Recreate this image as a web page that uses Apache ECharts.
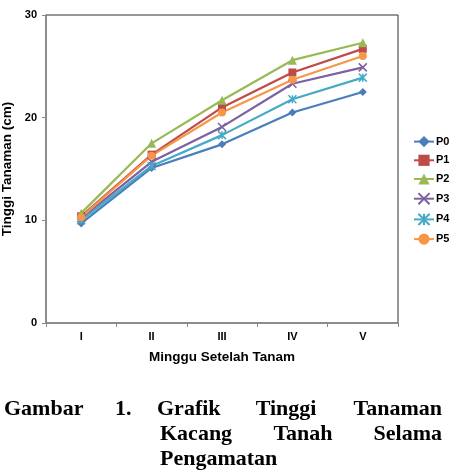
<!DOCTYPE html>
<html>
<head>
<meta charset="utf-8">
<script src="https://cdn.jsdelivr.net/npm/echarts@6/dist/echarts.min.js"></script>
<style>
  html, body { margin: 0; padding: 0; background: #fff; }
  #chart { width: 453px; height: 473px; }
</style>
</head>
<body>
<div id="chart"></div>
<script>
const weeks = ['I', 'II', 'III', 'IV', 'V'];
const yTicks = [0, 10, 20, 30];

const p0 = [9.7, 15.1, 17.4, 20.5, 22.5];
const p1 = [10.4, 16.4, 21.0, 24.4, 26.7];
const p2 = [10.7, 17.5, 21.7, 25.6, 27.3];
const p3 = [10.2, 15.7, 19.1, 23.3, 24.9];
const p4 = [10.0, 15.3, 18.3, 21.8, 23.9];
const p5 = [10.3, 16.3, 20.5, 23.7, 26.0];

const seriesDefs = [
  { name: 'P0', data: p0, color: '#4a7ebb', symbol: 'diamond', size: 8 },
  { name: 'P1', data: p1, color: '#be4b48', symbol: 'rect', size: 8 },
  { name: 'P2', data: p2, color: '#98b954', symbol: 'triangle', size: 9 },
  { name: 'P3', data: p3, color: '#7d60a0', symbol: 'path://M0,0L10,10M10,0L0,10', size: 8 },
  { name: 'P4', data: p4, color: '#46aac5', symbol: 'path://M0,0L10,10M10,0L0,10M5,0L5,10', size: 8 },
  { name: 'P5', data: p5, color: '#f79646', symbol: 'circle', size: 8 },
];

const chart = echarts.init(document.getElementById('chart'), null, { renderer: 'canvas' });

const font = 'Liberation Sans, Arial, sans-serif';
const serif = 'Liberation Serif, Times New Roman, serif';

// caption words, placed one by one to mimic justified text
function capWord(text, x, y, align) {
  return {
    type: 'text', x, y,
    style: { text, font: 'bold 22px ' + serif, fill: '#000', align: align || 'left', verticalAlign: 'middle' },
  };
}

const options = {
  animation: false,
  grid: {
    left: 46, top: 15, width: 352, height: 308, show: true, borderColor: '#333', borderWidth: 1,
    containLabel: false, outerBoundsMode: 'none',
  },
  legend: {
    orient: 'vertical', left: 408, top: 131, itemGap: 7.5, itemWidth: 20, itemHeight: 14,
    textStyle: { fontFamily: font, fontWeight: 'bold', fontSize: 11, color: '#000', padding: [0, 0, 0, -3] },
    data: seriesDefs.map(s => s.name),
  },
  xAxis: {
    type: 'category', data: weeks, boundaryGap: true,
    name: 'Minggu Setelah Tanam', nameLocation: 'middle', nameGap: 27,
    nameTextStyle: { fontFamily: font, fontWeight: 'bold', fontSize: 13.5, color: '#000' },
    axisLine: { lineStyle: { color: '#888', width: 1.5 } },
    axisTick: { show: true, length: 4, lineStyle: { color: '#888' } },
    axisLabel: { fontFamily: font, fontWeight: 'bold', fontSize: 11, color: '#000', margin: 8 },
    splitLine: { show: false },
  },
  yAxis: {
    type: 'value', min: 0, max: 30, interval: 10,
    name: 'Tinggi Tanaman (cm)', nameLocation: 'middle', nameGap: 22,
    nameTextStyle: { fontFamily: font, fontWeight: 'bold', fontSize: 13.5, color: '#000' },
    axisLine: { show: true, lineStyle: { color: '#888', width: 1.5 } },
    axisTick: { show: true, length: 4, lineStyle: { color: '#888' } },
    axisLabel: { fontFamily: font, fontWeight: 'bold', fontSize: 11, color: '#000', margin: 9,
      formatter: v => yTicks.includes(v) ? String(v) : '' },
    splitLine: { show: false },
  },
  series: seriesDefs.map(s => ({
    name: s.name, type: 'line', data: s.data,
    symbol: s.symbol, symbolSize: s.size, showSymbol: true,
    lineStyle: { color: s.color, width: 2.2 },
    itemStyle: { color: s.color, borderColor: s.color, borderWidth: s.symbol.startsWith('path') ? 1.5 : 0 },
  })),
  graphic: [
    capWord('Gambar', 4, 409),
    capWord('1.', 115, 409),
    capWord('Grafik', 157, 409),
    capWord('Tinggi', 286, 409, 'center'),
    capWord('Tanaman', 442, 409, 'right'),
    capWord('Kacang', 160, 434),
    capWord('Tanah', 303, 434, 'center'),
    capWord('Selama', 442, 434, 'right'),
    capWord('Pengamatan', 160, 459),
  ],
};

chart.setOption(options);
</script>
</body>
</html>
